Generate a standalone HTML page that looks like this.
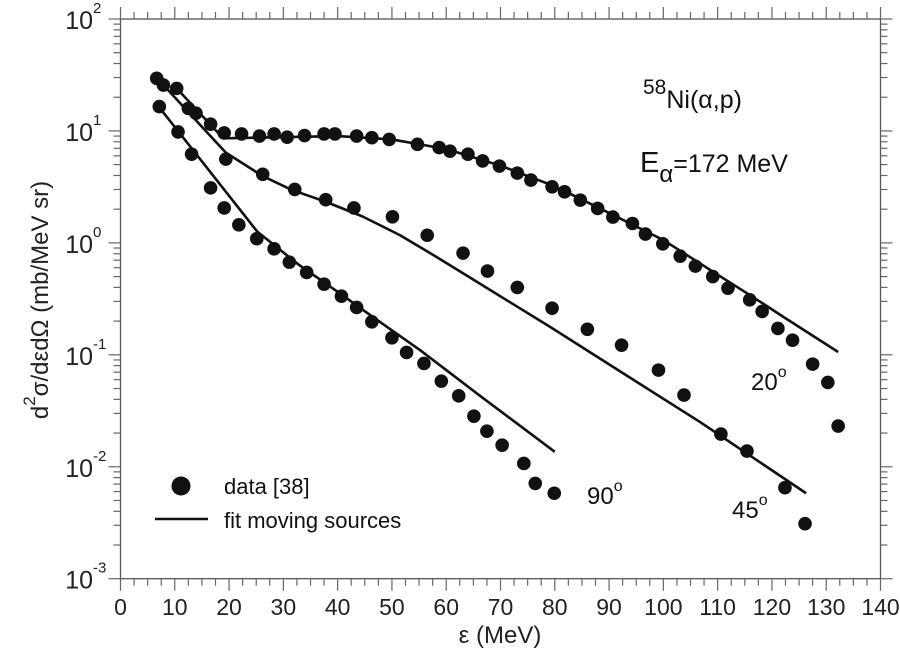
<!DOCTYPE html>
<html><head><meta charset="utf-8"><style>
body{margin:0;background:#fff;}
svg{display:block;font-family:"Liberation Sans",Arial,sans-serif;}
</style></head><body>
<svg id="chart" width="900" height="654" viewBox="0 0 900 654"></svg>
<script>
// ---- data ----
const xTicks=[0,10,20,30,40,50,60,70,80,90,100,110,120,130,140];
const yDecades=[-3,-2,-1,0,1,2];
const x20=[10.35,13.9,16.6,19.1,22.3,25.6,28.3,30.7,33.9,37.5,39.5,43.5,46.3,49.5,54.7,58.7,60.7,64.0,66.7,69.8,73.1,75.6,79.5,81.8,84.7,87.9,90.7,94.3,96.7,99.9,103.1,105.9,109.1,111.9,115.9,118.2,121.1,123.8,127.5,130.3,132.2];
const y20=[24,14.4,11.5,9.6,9.4,9.0,9.4,8.8,9.1,9.4,9.4,9.0,8.7,8.4,7.6,7.1,6.6,6.2,5.4,4.85,4.2,3.64,3.17,2.86,2.41,2.03,1.70,1.49,1.20,0.98,0.76,0.62,0.50,0.394,0.31,0.244,0.172,0.135,0.0826,0.0567,0.0231];
const x45=[6.67,7.9,12.5,19.4,26.2,32.1,37.8,43.0,50.1,56.5,63.1,67.6,73.1,79.5,86.0,92.3,99.1,103.8,110.6,115.4,122.4,126.1];
const y45=[29.5,25.7,15.9,5.6,4.1,3.0,2.43,2.05,1.71,1.17,0.81,0.56,0.40,0.261,0.169,0.122,0.073,0.0437,0.0196,0.0138,0.0065,0.0031];
const x90=[7.15,10.6,13.1,16.6,19.1,21.8,25.1,28.3,31.1,34.3,37.5,40.7,43.5,46.3,50.0,52.7,55.9,59.1,62.3,65.1,67.5,70.3,74.3,76.4,79.9];
const y90=[16.5,9.8,6.2,3.1,2.05,1.45,1.09,0.885,0.673,0.544,0.428,0.334,0.265,0.197,0.142,0.105,0.0837,0.0582,0.043,0.0283,0.0208,0.0156,0.0107,0.0071,0.0058];
const fx20=[10.35,18.9,30,40,50,60,70,80,90,100,110,116,122,132.2];
const fy20=[24,8.6,8.8,9.0,8.4,6.9,4.9,3.2,1.85,1.06,0.52,0.34,0.22,0.106];
const fx45=[7.9,19.4,26.2,31.5,37.8,44.6,51.5,58,65,72,79.1,92,106.7,126.3];
const fy45=[25.7,6.4,3.95,2.98,2.33,1.72,1.17,0.76,0.47,0.29,0.178,0.0713,0.0252,0.0058];
const fx90=[7.3,25.2,32.8,40.4,45.8,51.5,55.2,66.8,80.0];
const fy90=[15.9,1.26,0.64,0.354,0.23,0.147,0.110,0.041,0.0136];
// ---- layout ----
const L=120.5,R=880.5,T=19,B=578.7;
const sx=v=>L+(v-0)/140*(R-L);
const sy=v=>B-(Math.log10(v)+3)/5*(B-T);
const NS="http://www.w3.org/2000/svg";
const svg=document.getElementById('chart');
function mk(tag,attrs,parent){const e=document.createElementNS(NS,tag);for(const k in attrs)e.setAttribute(k,attrs[k]);(parent||svg).appendChild(e);return e;}
const frame=mk('rect',{x:L,y:T,width:R-L,height:B-T,fill:'none',stroke:'#555','stroke-width':1.3});


const ticks=mk('g',{stroke:'#666','stroke-width':1.2});


for(let v=0;v<=140;v+=2.5){const maj=v%10===0;const len=maj?12:7;const x=sx(v);
 mk('line',{x1:x,x2:x,y1:B,y2:B+len},ticks);mk('line',{x1:x,x2:x,y1:T,y2:T-len},ticks);}
xTicks.forEach(v=>{const t=mk('text',{x:sx(v),y:615,'text-anchor':'middle','font-size':23,fill:'#222'});t.textContent=v;
 
 });
yDecades.forEach(d=>{const y=sy(Math.pow(10,d));
 mk('line',{x1:L-12,x2:L,y1:y,y2:y},ticks);mk('line',{x1:R,x2:R+12,y1:y,y2:y},ticks);
 const t=mk('text',{x:93,y:y+10,'text-anchor':'end','font-size':25,fill:'#222'});t.textContent='10';
 
 
 const s=mk('text',{x:93,y:y-6,'font-size':15,fill:'#222'});s.textContent=String(d);
 
 
 if(d<2){for(let m=2;m<=9;m++){const yy=sy(m*Math.pow(10,d));mk('line',{x1:L-7,x2:L,y1:yy,y2:yy},ticks);mk('line',{x1:R,x2:R+7,y1:yy,y2:yy},ticks);}}
});
function line(xs,ys,name){const p=mk('polyline',{points:xs.map((x,i)=>sx(x)+','+sy(ys[i])).join(' '),fill:'none',stroke:'#111','stroke-width':2.6,'stroke-linejoin':'round'});
 
 }
line(fx20,fy20,'fit-line-20deg');line(fx45,fy45,'fit-line-45deg');line(fx90,fy90,'fit-line-90deg');
function pts(xs,ys,name){const g=mk('g',{fill:'#111'});
 
 
 xs.forEach((x,i)=>{const c=mk('circle',{cx:sx(x),cy:sy(ys[i]),r:6.8},g);
 
 });}
pts(x20,y20,'data-20deg');pts(x45,y45,'data-45deg');pts(x90,y90,'data-90deg');
</script>
<svg width="900" height="654" style="position:absolute;left:0;top:0;font-family:'Liberation Sans',Arial,sans-serif">
<text x="500" y="643" text-anchor="middle" font-size="24" fill="#222">ε (MeV)</text>
<text transform="translate(48,300) rotate(-90)" text-anchor="middle" font-size="24" fill="#222"><tspan>d</tspan><tspan font-size="17" dy="-13">2</tspan><tspan dy="13">σ/dεdΩ (mb/MeV sr)</tspan></text>
<text x="643" y="108" fill="#111"><tspan font-size="21" dy="-14">58</tspan><tspan dy="14" font-size="25">Ni(α,p)</tspan></text>
<text x="640" y="172" font-size="29" fill="#111">E<tspan font-size="24" dy="10">α</tspan><tspan dy="-10" font-size="25">=172 MeV</tspan></text>
<text x="751" y="390" font-size="24" fill="#111">20<tspan font-size="16" dy="-13">o</tspan></text>
<text x="732" y="518" font-size="24" fill="#111">45<tspan font-size="16" dy="-13">o</tspan></text>
<text x="587" y="504" font-size="24" fill="#111">90<tspan font-size="16" dy="-13">o</tspan></text>
<g>
<circle cx="181" cy="486" r="9.5" fill="#111"/>
<text x="224" y="494" font-size="22" fill="#111">data [38]</text>
<line x1="155" y1="519" x2="208" y2="519" stroke="#111" stroke-width="2.6"/>
<text x="224" y="528" font-size="22" fill="#111">fit moving sources</text>
</g>
</svg>
</body></html>
